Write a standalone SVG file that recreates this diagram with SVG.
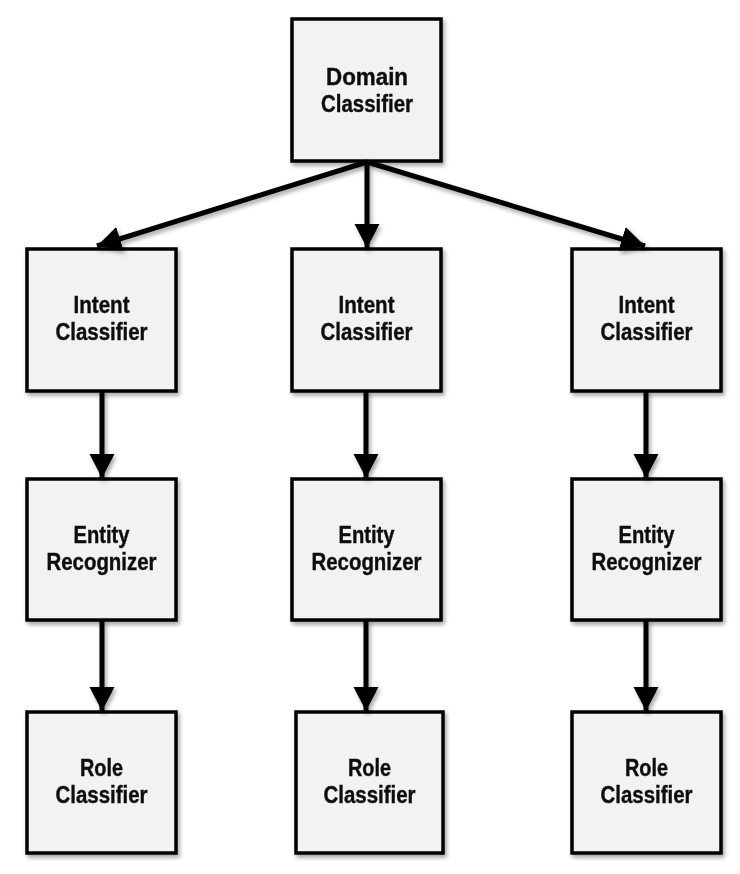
<svg xmlns="http://www.w3.org/2000/svg" width="740" height="874" viewBox="0 0 740 874">
<defs>
<filter id="sh" x="-20%" y="-20%" width="140%" height="140%">
<feDropShadow dx="2" dy="3" stdDeviation="2" flood-color="#000" flood-opacity="0.35"/>
</filter>
<marker id="ah" markerUnits="userSpaceOnUse" markerWidth="28" markerHeight="28" refX="24" refY="12.5" orient="auto">
<path d="M0,0 L24,12.5 L0,25 Z" fill="#000"/>
</marker>
</defs>
<style>
.box{fill:#f2f2f2;stroke:#000;stroke-width:3.5}
.lbl{font-family:"Liberation Sans",Arial,sans-serif;font-weight:bold;font-size:23px;fill:#111;stroke:#111;stroke-width:0.4;text-anchor:middle}
.con line{stroke:#000;stroke-width:5;marker-end:url(#ah)}
</style>
<rect width="740" height="874" fill="#fff"/>
<g id="domain" filter="url(#sh)"><rect class="box" x="292" y="19" width="149" height="142"/><text class="lbl" x="367" y="85" textLength="82" lengthAdjust="spacingAndGlyphs">Domain</text><text class="lbl" x="367" y="112" textLength="92" lengthAdjust="spacingAndGlyphs">Classifier</text></g>
<g id="intent1" filter="url(#sh)"><rect class="box" x="27" y="249" width="149" height="142"/><text class="lbl" x="101.5" y="313" textLength="56" lengthAdjust="spacingAndGlyphs">Intent</text><text class="lbl" x="101.5" y="340" textLength="92" lengthAdjust="spacingAndGlyphs">Classifier</text></g>
<g id="intent2" filter="url(#sh)"><rect class="box" x="292" y="249" width="149" height="142"/><text class="lbl" x="366.5" y="313" textLength="56" lengthAdjust="spacingAndGlyphs">Intent</text><text class="lbl" x="366.5" y="340" textLength="92" lengthAdjust="spacingAndGlyphs">Classifier</text></g>
<g id="intent3" filter="url(#sh)"><rect class="box" x="572" y="249" width="149" height="142"/><text class="lbl" x="646.5" y="313" textLength="56" lengthAdjust="spacingAndGlyphs">Intent</text><text class="lbl" x="646.5" y="340" textLength="92" lengthAdjust="spacingAndGlyphs">Classifier</text></g>
<g id="entity1" filter="url(#sh)"><rect class="box" x="27" y="479" width="149" height="141"/><text class="lbl" x="101.5" y="543" textLength="56" lengthAdjust="spacingAndGlyphs">Entity</text><text class="lbl" x="101.5" y="570" textLength="110" lengthAdjust="spacingAndGlyphs">Recognizer</text></g>
<g id="entity2" filter="url(#sh)"><rect class="box" x="292" y="479" width="149" height="141"/><text class="lbl" x="366.5" y="543" textLength="56" lengthAdjust="spacingAndGlyphs">Entity</text><text class="lbl" x="366.5" y="570" textLength="110" lengthAdjust="spacingAndGlyphs">Recognizer</text></g>
<g id="entity3" filter="url(#sh)"><rect class="box" x="572" y="479" width="149" height="141"/><text class="lbl" x="646.5" y="543" textLength="56" lengthAdjust="spacingAndGlyphs">Entity</text><text class="lbl" x="646.5" y="570" textLength="110" lengthAdjust="spacingAndGlyphs">Recognizer</text></g>
<g id="role1" filter="url(#sh)"><rect class="box" x="27" y="712" width="149" height="141"/><text class="lbl" x="101.5" y="776" textLength="43" lengthAdjust="spacingAndGlyphs">Role</text><text class="lbl" x="101.5" y="803" textLength="92" lengthAdjust="spacingAndGlyphs">Classifier</text></g>
<g id="role2" filter="url(#sh)"><rect class="box" x="296" y="712" width="147" height="141"/><text class="lbl" x="369.5" y="776" textLength="43" lengthAdjust="spacingAndGlyphs">Role</text><text class="lbl" x="369.5" y="803" textLength="92" lengthAdjust="spacingAndGlyphs">Classifier</text></g>
<g id="role3" filter="url(#sh)"><rect class="box" x="572" y="712" width="149" height="141"/><text class="lbl" x="646.5" y="776" textLength="43" lengthAdjust="spacingAndGlyphs">Role</text><text class="lbl" x="646.5" y="803" textLength="92" lengthAdjust="spacingAndGlyphs">Classifier</text></g>
<g class="con" filter="url(#sh)">
<line x1="367" y1="162" x2="97" y2="246"/>
<line x1="367" y1="162" x2="367" y2="248"/>
<line x1="367" y1="162" x2="645" y2="246"/>
<line x1="102" y1="391" x2="102" y2="478"/>
<line x1="102" y1="620" x2="102" y2="711"/>
<line x1="366" y1="391" x2="366" y2="478"/>
<line x1="366" y1="620" x2="366" y2="711"/>
<line x1="646" y1="391" x2="646" y2="478"/>
<line x1="646" y1="620" x2="646" y2="711"/>
</g>
</svg>
